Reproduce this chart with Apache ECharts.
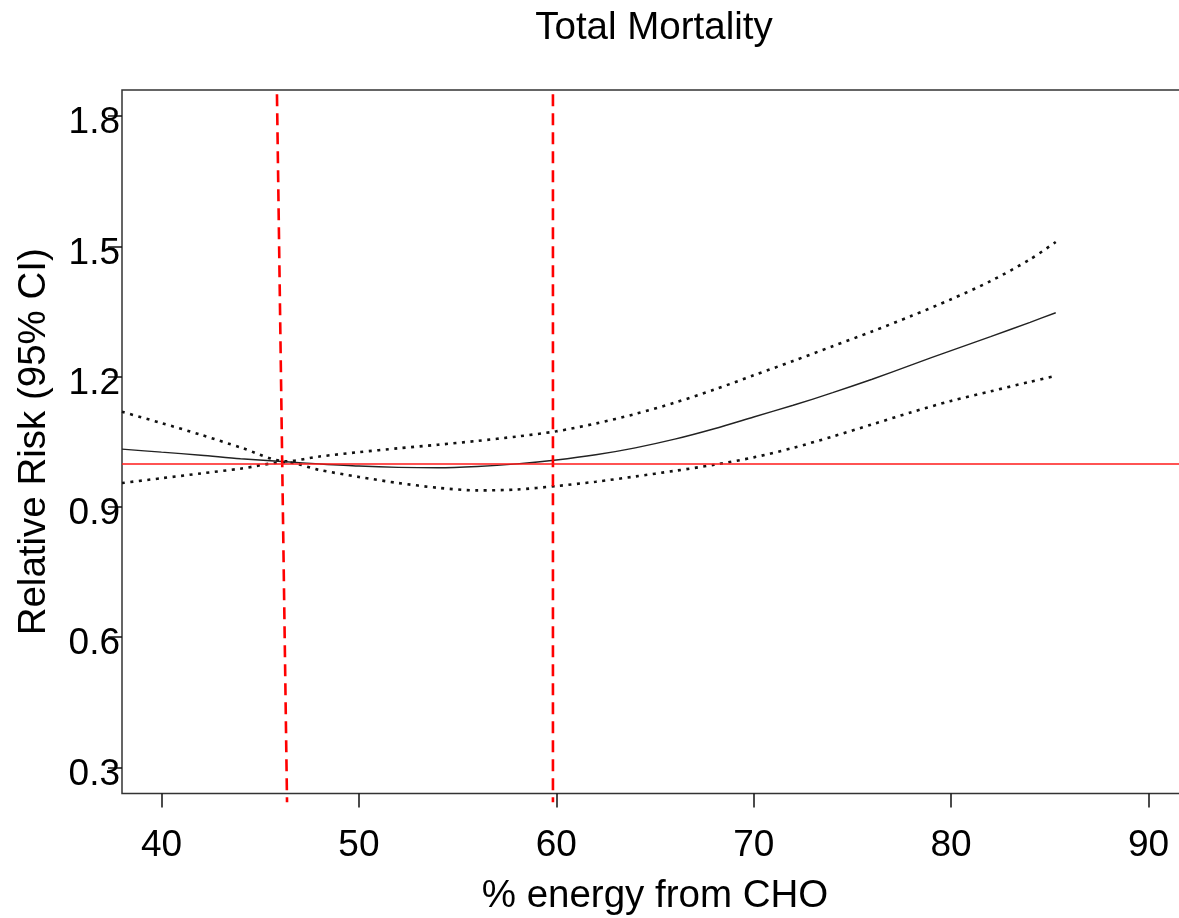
<!DOCTYPE html>
<html>
<head>
<meta charset="utf-8">
<title>Total Mortality</title>
<script src="https://cdn.jsdelivr.net/npm/echarts@6/dist/echarts.min.js"></script>
<style>
  html, body { margin: 0; padding: 0; background: #ffffff; }
  #chart { width: 1179px; height: 918px; }
</style>
</head>
<body>
<div id="chart"></div>
<script>
// % energy from carbohydrate (x) and relative risk of total mortality with 95% CI
const carbPct    = [38, 40, 42, 44, 46.3, 48, 50, 52, 54, 56, 58, 60, 62, 64, 66, 68, 70, 72, 74, 76, 78, 80, 82, 84, 85.3];
const rrEstimate = [1.033, 1.026, 1.019, 1.011, 1.004, 0.999, 0.994, 0.991, 0.990, 0.993, 0.999, 1.008, 1.020, 1.036, 1.056, 1.080, 1.107, 1.134, 1.163, 1.194, 1.227, 1.260, 1.292, 1.325, 1.347];
const rrUpper    = [1.119, 1.093, 1.066, 1.037, 1.005, 1.016, 1.026, 1.035, 1.043, 1.052, 1.062, 1.074, 1.092, 1.114, 1.140, 1.170, 1.203, 1.236, 1.270, 1.304, 1.340, 1.378, 1.420, 1.470, 1.510];
const rrLower    = [0.955, 0.966, 0.977, 0.988, 1.003, 0.985, 0.969, 0.955, 0.944, 0.938, 0.940, 0.948, 0.958, 0.970, 0.983, 0.997, 1.014, 1.036, 1.062, 1.090, 1.118, 1.144, 1.166, 1.188, 1.202];

// reference risk and the two cut points marked with dashed lines
const refRR = 1;
const cutLowX  = [45.85, 46.36];
const cutHighX = [59.83, 59.83];
const cutSpanY = [1.85, 0.22];

const xTicks = [40, 50, 60, 70, 80, 90];
const yTicks = [0.3, 0.6, 0.9, 1.2, 1.5, 1.8];

const FONT = "'Liberation Sans', Arial, sans-serif";

const pairs = (xs, ys) => xs.map((x, i) => [x, ys[i]]);

const dotted = { color: '#111', width: 2.6, type: [3, 5.5], cap: 'butt' };
const redDash = { color: '#ff0000', width: 2.6, type: [12, 7] };

const chart = echarts.init(document.getElementById('chart'), null, { renderer: 'canvas' });

chart.setOption({
  animation: false,
  backgroundColor: '#ffffff',
  title: {
    text: 'Total Mortality',
    left: 649,
    top: 4,
    textAlign: 'center',
    textStyle: { fontFamily: FONT, fontSize: 38.5, fontWeight: 'normal', color: '#000' }
  },
  grid: {
    left: 122,
    top: 90,
    width: 1066,
    height: 703.5,
    outerBoundsMode: 'none',
    containLabel: false,
    show: true,
    borderColor: '#333',
    borderWidth: 1.5,
    backgroundColor: 'transparent'
  },
  xAxis: {
    type: 'value',
    min: 38,
    max: 92,
    name: '% energy from CHO',
    nameLocation: 'middle',
    nameGap: 83,
    nameTextStyle: { fontFamily: FONT, fontSize: 38.5, color: '#000' },
    axisLine: { show: false },
    splitLine: { show: false },
    axisTick: { show: true, length: 14, lineStyle: { color: '#111', width: 1.5 }, customValues: xTicks },
    axisLabel: { margin: 34, fontFamily: FONT, fontSize: 37, color: '#000', customValues: xTicks }
  },
  yAxis: {
    type: 'value',
    min: 0.24,
    max: 1.86,
    name: 'Relative Risk (95% CI)',
    nameLocation: 'middle',
    nameRotate: 90,
    nameGap: 68,
    nameTextStyle: { fontFamily: FONT, fontSize: 38.5, color: '#000' },
    axisLine: { show: false },
    splitLine: { show: false },
    axisTick: { show: true, length: 14, lineStyle: { color: '#111', width: 1.5 }, customValues: yTicks },
    axisLabel: {
      margin: 2,
      fontFamily: FONT,
      fontSize: 37,
      color: '#000',
      verticalAlign: 'top',
      lineHeight: 14,
      customValues: yTicks,
      formatter: v => v.toFixed(1)
    }
  },
  series: [
    {
      name: 'Upper 95% CI',
      type: 'line',
      data: pairs(carbPct, rrUpper),
      smooth: 0.3,
      symbol: 'none',
      lineStyle: dotted,
      silent: true
    },
    {
      name: 'Lower 95% CI',
      type: 'line',
      data: pairs(carbPct, rrLower),
      smooth: 0.3,
      symbol: 'none',
      lineStyle: dotted,
      silent: true
    },
    {
      name: 'Relative risk',
      type: 'line',
      data: pairs(carbPct, rrEstimate),
      smooth: 0.3,
      symbol: 'none',
      lineStyle: { color: '#222', width: 1.4 },
      silent: true,
      markLine: {
        silent: true,
        symbol: ['none', 'none'],
        label: { show: false },
        lineStyle: { color: '#ff1a1a', width: 1.5, type: 'solid' },
        data: [{ yAxis: refRR }]
      }
    },
    {
      name: 'Cut point low',
      type: 'line',
      data: pairs(cutLowX, cutSpanY),
      clip: false,
      symbol: 'none',
      lineStyle: redDash,
      silent: true
    },
    {
      name: 'Cut point high',
      type: 'line',
      data: pairs(cutHighX, cutSpanY),
      clip: false,
      symbol: 'none',
      lineStyle: redDash,
      silent: true
    }
  ]
});
</script>
</body>
</html>
